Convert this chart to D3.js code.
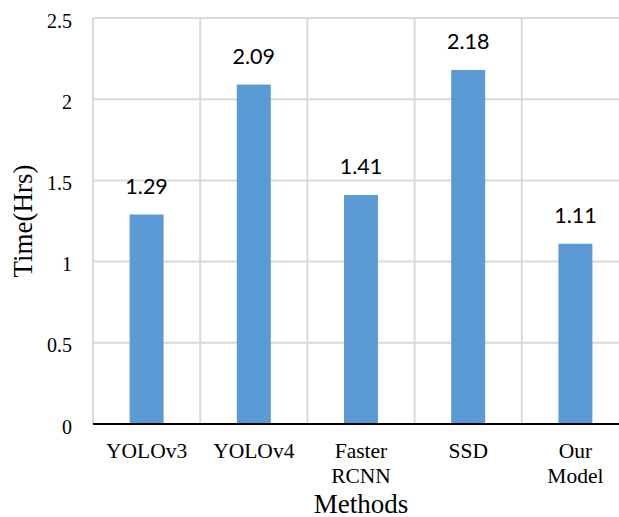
<!DOCTYPE html>
<html>
<head>
<meta charset="utf-8">
<script src="https://cdn.jsdelivr.net/npm/d3@7"></script>
<style>
  html, body { margin: 0; padding: 0; background: #fff; }
  svg { display: block; }
</style>
</head>
<body>
<svg id="chart" width="619" height="517"></svg>
<script>
// Training time per detection method
const methods = ["YOLOv3", "YOLOv4", "Faster RCNN", "SSD", "Our Model"];
const methodLines = [["YOLOv3"], ["YOLOv4"], ["Faster", "RCNN"], ["SSD"], ["Our", "Model"]];
const timeHrs = [1.29, 2.09, 1.41, 2.18, 1.11];
const yTicks = [0, 0.5, 1, 1.5, 2, 2.5];
const yTickLabels = ["0", "0.5", "1", "1.5", "2", "2.5"];

const svg = d3.select("#chart");
const serif = "'Liberation Serif', 'Times New Roman', serif";

const plotL = 93, plotR = 629, plotT = 18, plotB = 424;

const x = d3.scaleBand().domain(methods).range([plotL, plotR]).padding(0);
const y = d3.scaleLinear().domain([0, 2.5]).range([plotB, plotT]);

// horizontal gridlines
svg.append("g").selectAll("line").data(yTicks.filter(d => d > 0)).join("line")
  .attr("x1", plotL).attr("x2", plotR)
  .attr("y1", d => y(d)).attr("y2", d => y(d))
  .attr("stroke", "#d9d9d9").attr("stroke-width", 2);

// vertical category separators
const seps = methods.map(m => x(m)).concat([plotR]);
svg.append("g").selectAll("line").data(seps).join("line")
  .attr("x1", d => d).attr("x2", d => d)
  .attr("y1", plotT).attr("y2", plotB)
  .attr("stroke", "#d9d9d9").attr("stroke-width", 2);

// bars
const barW = x.bandwidth() * 0.317;
svg.append("g").selectAll("rect").data(methods).join("rect")
  .attr("x", (d) => x(d) + x.bandwidth() / 2 - barW / 2)
  .attr("y", (d, i) => y(timeHrs[i]))
  .attr("width", barW)
  .attr("height", (d, i) => plotB - y(timeHrs[i]))
  .attr("fill", "#5b9bd5");

// value labels
svg.append("g").selectAll("text").data(methods).join("text")
  .attr("x", d => x(d) + x.bandwidth() / 2)
  .attr("y", (d, i) => y(timeHrs[i]) - 21)
  .attr("text-anchor", "middle")
  .attr("font-family", "Lato, 'Noto Sans', sans-serif")
  .attr("font-size", 21.5)
  .attr("fill", "#000")
  .text((d, i) => timeHrs[i].toFixed(2));

// baseline axis
svg.append("line")
  .attr("x1", plotL).attr("x2", plotR)
  .attr("y1", plotB).attr("y2", plotB)
  .attr("stroke", "#000").attr("stroke-width", 2);

// y tick labels
svg.append("g").selectAll("text").data(yTicks).join("text")
  .attr("x", 72)
  .attr("y", d => y(d) + 9.5)
  .attr("text-anchor", "end")
  .attr("font-family", serif)
  .attr("font-size", 20)
  .attr("fill", "#000")
  .text((d, i) => yTickLabels[i]);

// x category labels
const xl = svg.append("g").selectAll("text").data(methods).join("text")
  .attr("text-anchor", "middle")
  .attr("font-family", serif)
  .attr("font-size", 21.5)
  .attr("fill", "#000");
xl.each(function(d, i) {
  const t = d3.select(this);
  methodLines[i].forEach((line, k) => {
    t.append("tspan")
      .attr("x", x(d) + x.bandwidth() / 2)
      .attr("y", 458 + k * 25)
      .text(line);
  });
});

// axis titles
svg.append("text")
  .attr("x", (plotL + plotR) / 2)
  .attr("y", 513)
  .attr("text-anchor", "middle")
  .attr("font-family", serif)
  .attr("font-size", 27)
  .attr("fill", "#000")
  .text("Methods");

svg.append("text")
  .attr("transform", "translate(32,221) rotate(-90)")
  .attr("text-anchor", "middle")
  .attr("font-family", serif)
  .attr("font-size", 27)
  .attr("fill", "#000")
  .text("Time(Hrs)");
</script>
</body>
</html>
